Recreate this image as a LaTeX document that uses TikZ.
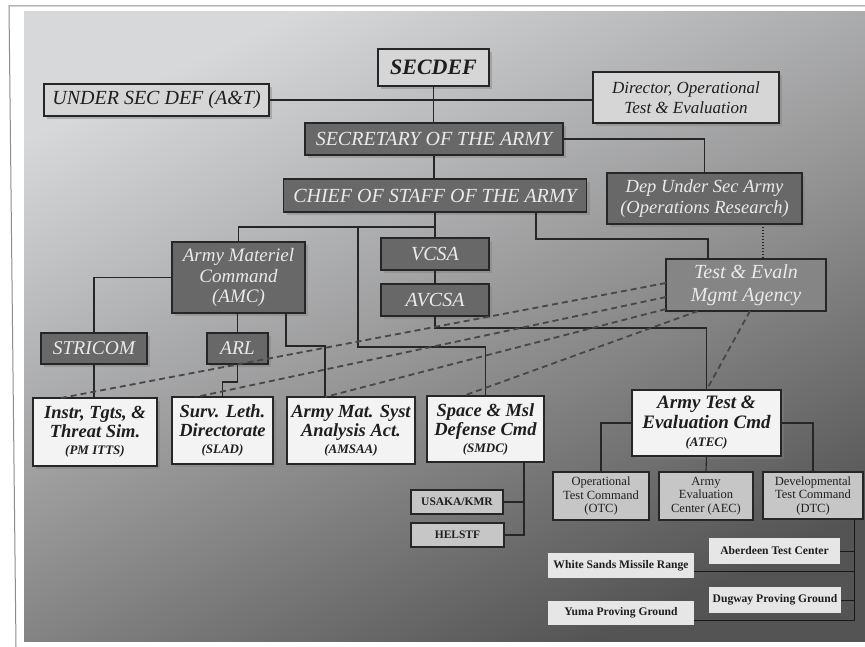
\documentclass[tikz,border=0pt]{standalone}
\usepackage{fontspec}
\setmainfont{Liberation Serif}
\usetikzlibrary{shadows}

\definecolor{boxline}{HTML}{262626}
\definecolor{lightfill}{HTML}{D6D6D6}
\definecolor{darkfill}{HTML}{686868}
\definecolor{agencyfill}{HTML}{858585}
\definecolor{whitefill}{HTML}{F3F3F3}
\definecolor{cmdfill}{HTML}{C6C6C6}
\definecolor{rangefill}{HTML}{E6E6E6}
\definecolor{darktext}{HTML}{1E1E1E}
\definecolor{lighttext}{HTML}{EAEAEA}
\definecolor{framegray}{HTML}{8C8C8C}
\definecolor{slidetop}{RGB}{214,216,218}
\definecolor{slidemid}{RGB}{152,152,153}
\definecolor{slidebottom}{RGB}{84,84,84}

\newcommand{\unitcode}[1]{{\bfseries\itshape\fontsize{13}{14}\selectfont #1}}

\begin{document}
\begin{tikzpicture}[x=1pt, y=-1pt, line join=miter,
    every node/.style={align=center, inner sep=1pt, outer sep=0pt},
    box/.style={draw=boxline, line width=1.3pt, drop shadow={shadow xshift=3pt, shadow yshift=-3pt, opacity=0.45}},
    lightbox/.style={box, fill=lightfill, text=darktext, font=\itshape\fontsize{20}{22}\selectfont},
    darkbox/.style={box, fill=darkfill, text=lighttext, font=\itshape\fontsize{20}{22}\selectfont},
    unitbox/.style={box, fill=whitefill, text=darktext, font=\bfseries\itshape\fontsize{18.5}{19}\selectfont},
    cmdbox/.style={draw=boxline, line width=1.2pt, fill=cmdfill, text=darktext, font=\fontsize{12.5}{13.5}\selectfont},
    rangebox/.style={fill=rangefill, text=darktext, font=\bfseries\fontsize{11.6}{13}\selectfont},
    link/.style={draw=boxline, line width=1.1pt},
    thinlink/.style={draw=black!90, line width=0.8pt},
    tealink/.style={draw=boxline!85, line width=1.8pt, dash pattern=on 6pt off 4pt},
    dotlink/.style={draw=boxline, line width=1.6pt, dash pattern=on 1.5pt off 1.5pt}]

    % page and slide
    \useasboundingbox (0,0) rectangle (865,647);
    \fill[white] (0,0) rectangle (865,647);
    \shade[top color=slidetop, bottom color=slidebottom, middle color=slidemid, shading angle=25] (24,12) rectangle (865,641);
    \draw[framegray, line width=1pt] (865,6) -- (9,6) -- (16,647);

    % top of the chart
    \node[lightbox, minimum width=111, minimum height=37, font=\bfseries\itshape\fontsize{22}{24}\selectfont] (secdef) at (433.5,67.5) {SECDEF};
    \node[lightbox, minimum width=225, minimum height=32] (undersec) at (156.5,100) {UNDER SEC DEF (A\&T)};
    \node[lightbox, minimum width=186, minimum height=51, font=\itshape\fontsize{17}{20}\selectfont] (dote) at (686,97.5) {Director, Operational\\Test \& Evaluation};
    \node[darkbox, minimum width=258, minimum height=32] (secarmy) at (434,139) {SECRETARY OF THE ARMY};
    \node[darkbox, minimum width=303, minimum height=33] (csa) at (435,195.5) {CHIEF OF STAFF OF THE ARMY};
    \node[darkbox, minimum width=195, minimum height=51, font=\itshape\fontsize{18.5}{21}\selectfont] (dusa) at (704.5,198.5) {Dep Under Sec Army\\(Operations Research)};

    % army staff and commands
    \node[darkbox, minimum width=133, minimum height=71, font=\itshape\fontsize{19}{20.5}\selectfont] (amc) at (238.5,277.5) {Army Materiel\\Command\\(AMC)};
    \node[darkbox, minimum width=108, minimum height=32] (vcsa) at (435,254) {VCSA};
    \node[darkbox, minimum width=108, minimum height=32] (avcsa) at (435,300) {AVCSA};
    \node[darkbox, fill=agencyfill, minimum width=160, minimum height=52, font=\itshape\fontsize{20}{23}\selectfont] (tema) at (746,285) {Test \& Evaln\\Mgmt Agency};
    \node[darkbox, minimum width=106, minimum height=31, font=\itshape\fontsize{19.5}{21}\selectfont] (stricom) at (94,348.5) {STRICOM};
    \node[darkbox, minimum width=61, minimum height=31, font=\itshape\fontsize{19.5}{21}\selectfont] (arl) at (237.5,348.5) {ARL};

    % bottom row
    \node[unitbox, minimum width=124, minimum height=68] (itts) at (95,432) {Instr, Tgts, \&\\Threat Sim.\\[-2pt]\unitcode{(PM ITTS)}};
    \node[unitbox, minimum width=101, minimum height=67] (slad) at (222.5,430.5) {Surv. Leth.\\Directorate\\[-2pt]\unitcode{(SLAD)}};
    \node[unitbox, minimum width=128, minimum height=67] (amsaa) at (351,430.5) {Army Mat. Syst\\Analysis Act.\\[-2pt]\unitcode{(AMSAA)}};
    \node[unitbox, minimum width=117, minimum height=66] (smdc) at (485.5,429) {Space \& Msl\\Defense Cmd\\[-2pt]\unitcode{(SMDC)}};
    \node[unitbox, minimum width=149, minimum height=66, font=\bfseries\itshape\fontsize{19}{20}\selectfont] (atec) at (706.5,423) {Army Test \&\\Evaluation Cmd\\[-2pt]\unitcode{(ATEC)}};

    % test commands and ranges
    \node[cmdbox, minimum width=96, minimum height=48] (otc) at (601,496) {Operational\\Test Command\\(OTC)};
    \node[cmdbox, minimum width=94, minimum height=48] (aec) at (706,496) {Army\\Evaluation\\Center (AEC)};
    \node[cmdbox, minimum width=100, minimum height=47] (dtc) at (813,495.5) {Developmental\\Test Command\\(DTC)};
    \node[cmdbox, minimum width=92, minimum height=24, font=\bfseries\fontsize{11.5}{12}\selectfont] (usaka) at (457,502) {USAKA/KMR};
    \node[cmdbox, minimum width=93, minimum height=24, font=\bfseries\fontsize{11.5}{12}\selectfont] (helstf) at (457.5,535) {HELSTF};
    \node[rangebox, minimum width=131, minimum height=26] (atc) at (774.5,551) {Aberdeen Test Center};
    \node[rangebox, minimum width=146, minimum height=25] (wsmr) at (621,565.5) {White Sands Missile Range};
    \node[rangebox, minimum width=132, minimum height=26] (dpg) at (775,600) {Dugway Proving Ground};
    \node[rangebox, minimum width=146, minimum height=24] (ypg) at (621,613) {Yuma Proving Ground};

    % solid lines
    \coordinate (csabus) at (435,227);
    \coordinate (csaleft) at (358,227);
    \coordinate (smdcknee) at (358,347);
    \draw[link] (undersec.east) -- (undersec.east -| dote.west);
    \draw[link] (secdef.south) -- (secdef.south |- secarmy.north);
    \draw[link] (secarmy.east) -| (dusa.north);
    \draw[link] (secarmy.south) -- (secarmy.south |- csa.north);
    \draw[link] (csa.south) -- (vcsa.north);
    \draw[link] (vcsa.south) -- (avcsa.north);
    \draw[link] (amc.north) |- (csabus);
    \draw[link] (csaleft) -- (smdcknee) -| (smdc.north);
    \draw[link] ([xshift=101pt]csa.south) -- ++(0,27) -| ([xshift=-38pt]tema.north);
    \draw[link] (avcsa.south) -- ++(0,12) -| (atec.north);
    \draw[link] (amc.west) -| (stricom.north);
    \draw[link] (stricom.south) -- (stricom.south |- itts.north);
    \draw[link] (arl.north |- amc.south) -- (arl.north);
    \draw[link] (arl.south) -- ++(0,18) -| (slad.north);
    \draw[link] ([xshift=47.5pt]amc.south) -- ++(0,33) -| ([xshift=-26pt]amsaa.north);
    \draw[link] (atec.west) -| (otc.north);
    \draw[link] (atec.east) -| (dtc.north);
    \draw[link] (atec.south) -- (aec.north);
    \draw[link] ([xshift=38.5pt]smdc.south) |- (helstf.east);
    \draw[link] (usaka.east) -- ++(21,0);
    \draw[thinlink] ([xshift=41pt]dtc.south) |- ([yshift=-7pt]ypg.east);
    \draw[thinlink] ([yshift=-5.5pt]wsmr.east) -- ++(160,0);
    \draw[thinlink] (atc.east) -- ++(14,0);
    \draw[thinlink] (dpg.east) -- ++(13,0);

    % dashed and dotted lines
    \draw[dotlink] ([xshift=58.5pt]dusa.south) -- ([xshift=17pt]tema.north);
    \draw[tealink] ([yshift=2pt]tema.west) -- ([xshift=-34pt]itts.north);
    \draw[tealink] ([yshift=-12pt]tema.west) -- ([xshift=-26.5pt]slad.north);
    \draw[tealink] ([yshift=2pt]tema.south west) -- ([xshift=-26pt]amsaa.north);
    \draw[tealink] ([xshift=-48pt]tema.south) -- ([xshift=-22.5pt]smdc.north);
    \draw[tealink] ([xshift=4pt]tema.south) -- (atec.north);
\end{tikzpicture}
\end{document}
